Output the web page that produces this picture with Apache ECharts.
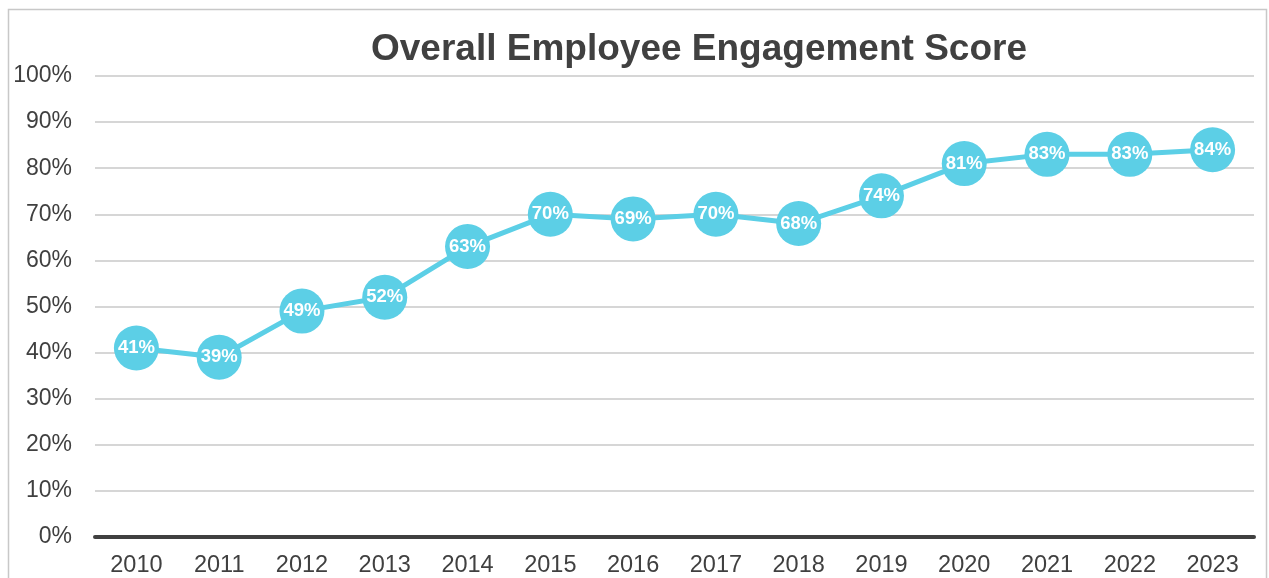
<!DOCTYPE html>
<html>
<head>
<meta charset="utf-8">
<script src="https://cdn.jsdelivr.net/npm/echarts@6/dist/echarts.min.js"></script>
<style>
  html, body { margin: 0; padding: 0; background: #fff; }
  #chart { width: 1269px; height: 578px; }
</style>
</head>
<body>
<div id="chart"></div>
<script>
const years = ['2010', '2011', '2012', '2013', '2014', '2015', '2016', '2017', '2018', '2019', '2020', '2021', '2022', '2023'];
const engagement = [41, 39, 49, 52, 63, 70, 69, 70, 68, 74, 81, 83, 83, 84];

const chart = echarts.init(document.getElementById('chart'));

const option = {
  animation: false,
  textStyle: { fontFamily: 'Liberation Sans, Arial, sans-serif' },
  title: {
    text: 'Overall Employee Engagement Score',
    left: 694,
    top: 26,
    textAlign: 'center',
    textStyle: { fontSize: 37, fontWeight: 'bold', color: '#404040' }
  },
  graphic: [{
    type: 'rect',
    shape: { x: 8.5, y: 9.5, width: 1258, height: 600 },
    style: { fill: 'none', stroke: '#c8c8c8', lineWidth: 1.5 },
    silent: true
  }],
  grid: { left: 95, right: 15, top: 76, bottom: 40 },
  xAxis: {
    type: 'category',
    data: years,
    boundaryGap: true,
    axisTick: { show: false },
    axisLine: { show: true, lineStyle: { color: '#404040', width: 4 } },
    axisLabel: { fontSize: 23.5, color: '#404040', margin: 17 }
  },
  yAxis: {
    type: 'value',
    min: 0,
    max: 100,
    interval: 10,
    axisLine: { show: false },
    axisTick: { show: false },
    axisLabel: { fontSize: 23, color: '#404040', margin: 23, formatter: '{value}%' },
    splitLine: { lineStyle: { color: '#c8c8c8', width: 1.5 } }
  },
  series: [{
    type: 'line',
    data: engagement,
    symbol: 'circle',
    symbolSize: 45,
    itemStyle: { color: '#5ccfe6' },
    lineStyle: { color: '#5ccfe6', width: 5 },
    label: {
      show: true,
      position: 'inside',
      formatter: '{c}%',
      color: '#ffffff',
      fontSize: 18.5,
      fontWeight: 'bold'
    }
  }]
};

chart.setOption(option);
</script>
</body>
</html>
